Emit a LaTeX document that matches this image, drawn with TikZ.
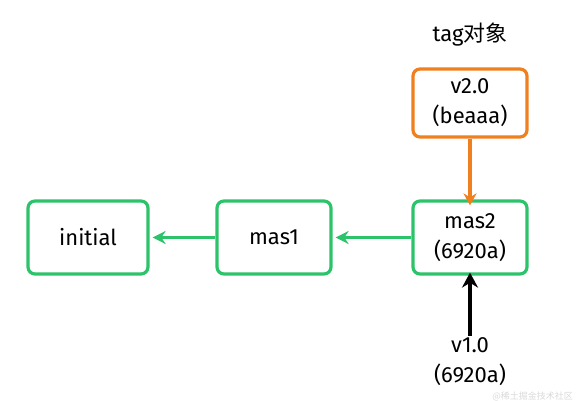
\documentclass[tikz,border=0pt]{standalone}
\usepackage{fontspec}
\setmainfont{Fira Sans}
\newfontfamily\cjk{Noto Sans CJK SC}
\usetikzlibrary{arrows.meta}
\definecolor{gr}{HTML}{2CC36B}
\definecolor{og}{HTML}{F07F1E}
\tikzset{
  box/.style={draw=gr, line width=3.2pt, rounded corners=7pt, fill=white, minimum width=114pt, minimum height=72pt, align=center, font=\fontsize{22}{30}\selectfont, inner sep=0pt},
  obox/.style={box, draw=og},
  garr/.style={draw=gr, line width=2.8pt, -{Stealth[length=13pt,width=13pt]}},
  oarr/.style={draw=og, line width=3.2pt, -{Stealth[length=12pt,width=13pt]}},
  karr/.style={draw=black, line width=4pt, -{Stealth[length=15pt,width=16pt]}},
  lbl/.style={align=center, font=\fontsize{22}{30}\selectfont, inner sep=2pt}
}
\begin{document}
\begin{tikzpicture}[x=1pt,y=-1pt]
\useasboundingbox (0,0) rectangle (576,401);
\node[lbl] (tag) at (470,35) {tag\cjk 对象};
\node[obox, minimum height=68pt] (v2) at (470,103) {v2.0\\(beaaa)};
\node[box, minimum height=73pt] (m2) at (470,237.5) {mas2\\(6920a)};
\node[box, minimum height=73pt] (m1) at (274,237.5) {mas1};
\node[box, minimum width=120pt, minimum height=73pt] (ini) at (88,237.5) {initial};
\node[lbl] (v1) at (470,362) {v1.0\\(6920a)};
\draw[oarr] (v2.south) -- ([yshift=-6pt]m2.north);
\draw[garr] (m2.west) -- ([xshift=3pt]m1.east);
\draw[garr] (m1.west) -- ([xshift=3pt]ini.east);
\draw[karr] (v1.north) -- ([yshift=3pt]m2.south);
\node[text=black!15, font=\cjk\fontsize{9}{11}\selectfont, anchor=east, inner sep=1pt] (wm) at (574,396) {@稀土掘金技术社区};
\end{tikzpicture}
\end{document}
